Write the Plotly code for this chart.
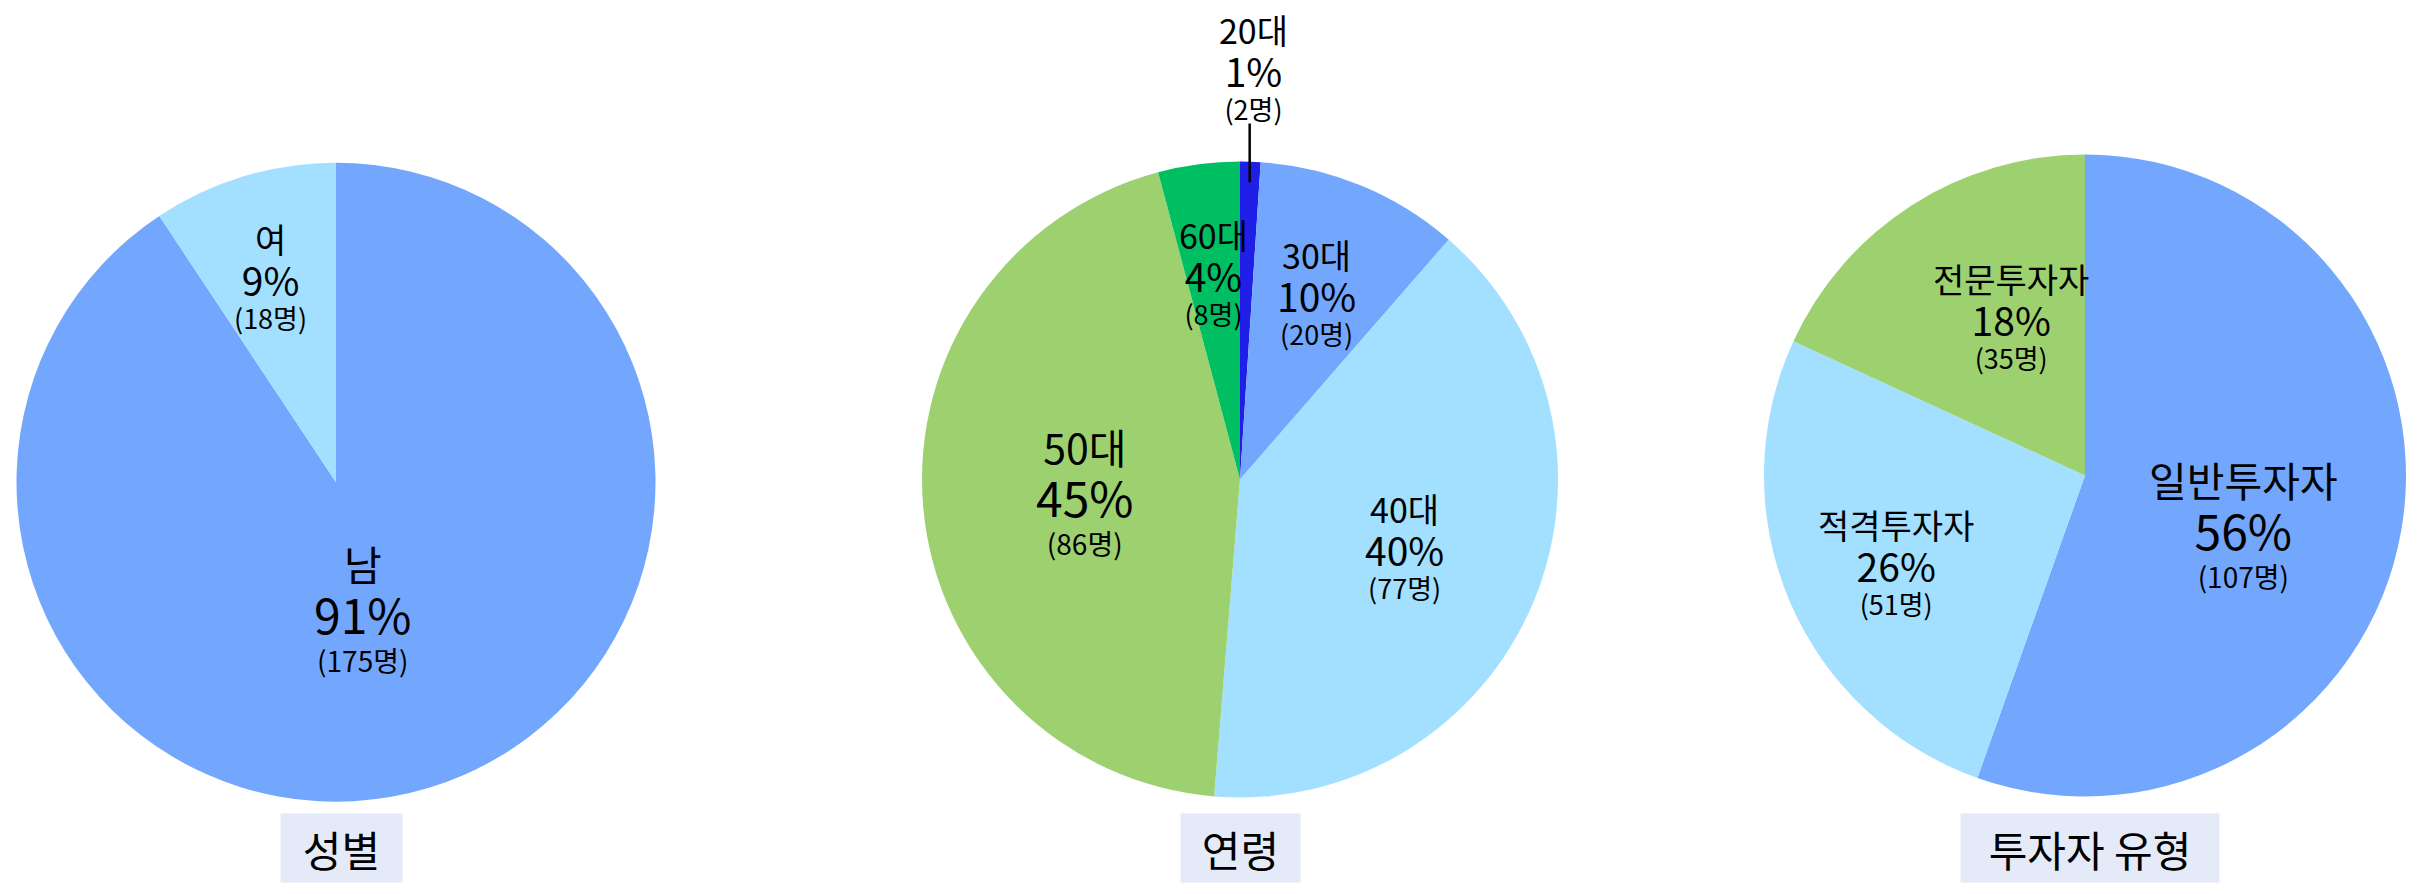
import math
import plotly.graph_objects as go

# ---------------- data ----------------
gender_labels = ["남", "여"]
gender_counts = [175, 18]
gender_pcts = [91, 9]

age_labels = ["20대", "30대", "40대", "50대", "60대"]
age_counts = [2, 20, 77, 86, 8]
age_pcts = [1, 10, 40, 45, 4]

inv_labels = ["일반투자자", "적격투자자", "전문투자자"]
inv_counts = [107, 51, 35]
inv_pcts = [56, 26, 18]

titles = ["성별", "연령", "투자자 유형"]

# ---------------- style ----------------
W, H = 2425, 894
FONT = "Noto Sans CJK KR"
BLUE, LBLUE, GREEN, DGREEN, DBLUE = "#73A7FE", "#A3DFFE", "#9DD06F", "#00BF62", "#1F1FE8"
pie_colors = [[BLUE, LBLUE], [DBLUE, BLUE, LBLUE, GREEN, DGREEN], [BLUE, LBLUE, GREEN]]
pie_cx = [336, 1240, 2085]
pie_cy = [482.2, 479.5, 475.5]
pie_r = [319.5, 318, 321]
# label placement: radius fraction, angle offset (deg), size class; negative rf => outside with leader
label_rf = [[0.41, 0.67], [-1.29, 0.63, 0.56, 0.49, 0.65], [0.52, 0.65, 0.54]]
label_dth = [[5, -1], [0, 0, 0, 0, 0], [8, -2.5, 7.5]]
label_cls = [["big", "mid"], ["mid", "mid", "mid", "big", "mid"], ["big", "mid", "mid"]]
# (label size, pct size, count size, base size (line spacing), count raise px, block yshift px)
SIZES = {"big": (41, 48, 28, 40.5, 14, 4), "mid": (34, 39, 27, 33, 10, 3)}
LEADER = (0.935, 1.12)
title_w = [119, 117, 256]
title_h = 66
title_cy = 848
title_dx = [5, 0, 5]

datasets = [
    (gender_labels, gender_counts, gender_pcts),
    (age_labels, age_counts, age_pcts),
    (inv_labels, inv_counts, inv_pcts),
]


def px2paper(x, y):
    return x / W, 1 - y / H


fig = go.Figure()
annotations = []
shapes = []

for i, (labs, cnts, pcts) in enumerate(datasets):
    cx, cy, r = pie_cx[i], pie_cy[i], pie_r[i]
    x0, y1 = px2paper(cx - r, cy - r)
    x1, y0 = px2paper(cx + r, cy + r)
    fig.add_trace(go.Pie(
        labels=labs, values=cnts, sort=False, direction="clockwise", rotation=0,
        marker=dict(colors=pie_colors[i], line=dict(width=0)),
        textinfo="none", hoverinfo="skip", showlegend=False,
        domain=dict(x=[x0, x1], y=[y0, y1]),
    ))
    total = sum(cnts)
    cum = 0
    for j, (lab, cnt, pct) in enumerate(zip(labs, cnts, pcts)):
        mid = (cum + cnt / 2) / total * 360
        cum += cnt
        s1, s2, s3, base, raise_, ysh = SIZES[label_cls[i][j]]
        rf = label_rf[i][j]
        th = math.radians(mid + label_dth[i][j])
        if rf < 0:
            rf = -rf
            pa = px2paper(cx + LEADER[0] * r * math.sin(th), cy - LEADER[0] * r * math.cos(th))
            pb = px2paper(cx + LEADER[1] * r * math.sin(th), cy - LEADER[1] * r * math.cos(th))
            shapes.append(dict(type="line", xref="paper", yref="paper",
                               x0=pa[0], y0=pa[1], x1=pa[0], y1=pb[1],
                               line=dict(color="black", width=2.5)))
        px = cx + rf * r * math.sin(th)
        py = cy - rf * r * math.cos(th)
        ax_, ay_ = px2paper(px, py)
        txt = (f"<span style='font-size:{s1}px'>{lab}</span><br>"
               f"<span style='font-size:{s2}px'>{pct}%</span><br>"
               f"<span style='font-size:{s3}px;baseline-shift:{raise_}px'>({cnt}명)</span>")
        annotations.append(dict(
            x=ax_, y=ay_, xref="paper", yref="paper", text=txt,
            showarrow=False, xanchor="center", yanchor="middle", yshift=ysh,
            font=dict(family=FONT, size=base, color="black"), align="center",
        ))
    # title box
    tx, ty = px2paper(cx + title_dx[i], title_cy)
    annotations.append(dict(
        x=tx, y=ty, xref="paper", yref="paper", text=titles[i],
        showarrow=False, xanchor="center", yanchor="middle",
        width=title_w[i], height=title_h, bgcolor="#E5EAF8",
        font=dict(family=FONT, size=42, color="black"), align="center", valign="middle",
    ))

fig.update_layout(
    width=W, height=H, margin=dict(l=0, r=0, t=0, b=0),
    paper_bgcolor="white", plot_bgcolor="white",
    annotations=annotations, shapes=shapes, font=dict(family=FONT),
)

fig.write_html("out.html", config={"displayModeBar": False},
               post_script="document.body.style.margin='0';")
